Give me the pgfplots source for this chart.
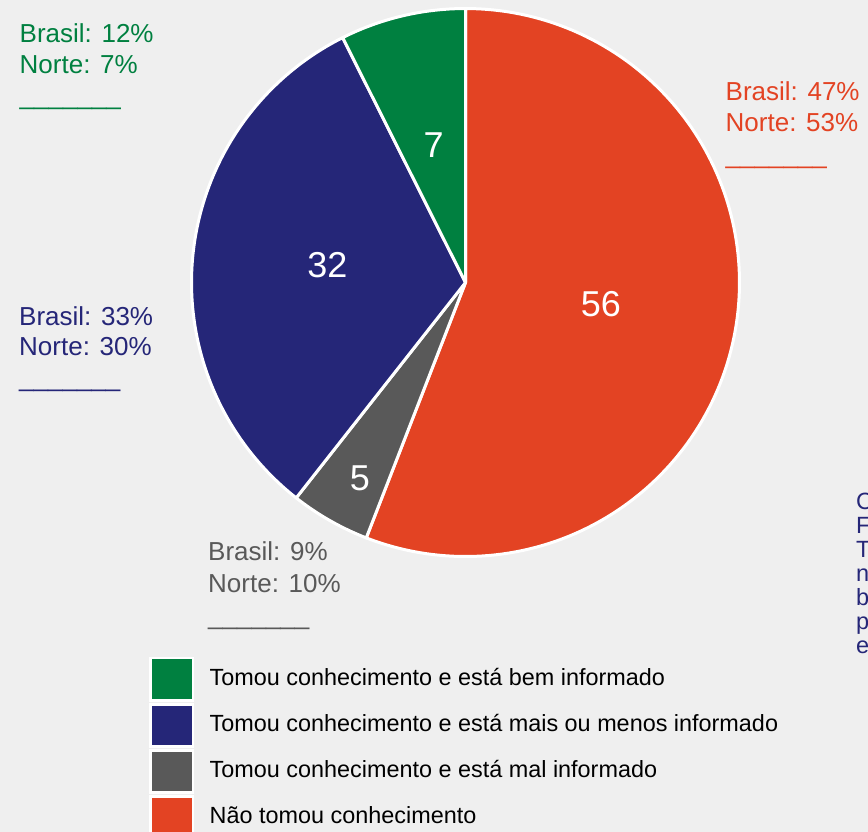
\documentclass[border=0pt]{standalone}
\usepackage{pgfplots}
\pgfplotsset{compat=1.18}
\usepackage{pgfplotstable}
\usepackage{fontspec}
\setmainfont{Liberation Sans}
\definecolor{bgc}{RGB}{239,239,239}
\definecolor{cGreen}{RGB}{0,128,64}
\definecolor{cNavy}{RGB}{37,38,120}
\definecolor{cGray}{RGB}{89,89,89}
\definecolor{cRed}{RGB}{227,67,35}

% slice values (percent), clockwise from the top
\pgfplotstableread{
slice value
nao   55.9
mal   4.7
mais  32.0
bem   7.4
}\piedata

\begin{document}
\begin{tikzpicture}
\useasboundingbox (0,0) rectangle (868bp,-832bp);
\clip (0,0) rectangle (868bp,-832bp);
\fill[bgc] (0,0) rectangle (868bp,-832bp);
% cumulative angles from the table
\pgfplotstablegetelem{0}{value}\of\piedata \let\vA\pgfplotsretval
\pgfplotstablegetelem{1}{value}\of\piedata \let\vB\pgfplotsretval
\pgfplotstablegetelem{2}{value}\of\piedata \let\vC\pgfplotsretval
\pgfplotstablegetelem{3}{value}\of\piedata \let\vD\pgfplotsretval
\pgfmathsetmacro\aA{90}
\pgfmathsetmacro\aB{\aA-3.6*\vA}
\pgfmathsetmacro\aC{\aB-3.6*\vB}
\pgfmathsetmacro\aD{\aC-3.6*\vC}
\pgfmathsetmacro\aE{\aD-3.6*\vD}
\begin{axis}[x=1bp, y=1bp, xmin=0, xmax=868, ymin=0, ymax=832,
  y dir=reverse, hide axis, at={(0,0)}, anchor=north west, clip=false]
\def\cx{465.5}\def\cy{282.5}\def\R{274}
\addplot[fill=cRed, draw=white, line width=3bp, line join=round, domain=\aB:\aA, samples=140]
  ({\cx+\R*cos(x)},{\cy-\R*sin(x)}) -- (axis cs:465.5,282.5) -- cycle;
\addplot[fill=cGray, draw=white, line width=3bp, line join=round, domain=\aC:\aB, samples=20]
  ({\cx+\R*cos(x)},{\cy-\R*sin(x)}) -- (axis cs:465.5,282.5) -- cycle;
\addplot[fill=cNavy, draw=white, line width=3bp, line join=round, domain=\aD:\aC, samples=90]
  ({\cx+\R*cos(x)},{\cy-\R*sin(x)}) -- (axis cs:465.5,282.5) -- cycle;
\addplot[fill=cGreen, draw=white, line width=3bp, line join=round, domain=\aE:\aD, samples=25]
  ({\cx+\R*cos(x)},{\cy-\R*sin(x)}) -- (axis cs:465.5,282.5) -- cycle;

% slice labels
\begin{scope}[every node/.style={text=white, inner sep=0pt, font=\fontsize{36bp}{36bp}\selectfont}]
\node at (axis cs:601,304.5) {56};
\node at (axis cs:360,477.8) {5};
\node at (axis cs:327.3,264.7) {32};
\node at (axis cs:433.7,145.5) {7};
\end{scope}

% annotations
\begin{scope}[every node/.style={anchor=base west, inner sep=0pt, font=\fontsize{26bp}{31bp}\selectfont}]
\node[text=cGreen] at (axis cs:19.5,42.3) {Brasil: 12\%};
\node[text=cGreen] at (axis cs:19.5,73.5) {Norte: 7\%};
\node[text=cGreen] at (axis cs:19.5,104.5) {\_\_\_\_\_\_\_};
\node[text=cRed] at (axis cs:725.5,100) {Brasil: 47\%};
\node[text=cRed] at (axis cs:725.5,131.5) {Norte: 53\%};
\node[text=cRed] at (axis cs:725.5,163) {\_\_\_\_\_\_\_};
\node[text=cNavy] at (axis cs:19,325) {Brasil: 33\%};
\node[text=cNavy] at (axis cs:19,355.7) {Norte: 30\%};
\node[text=cNavy] at (axis cs:19,386.3) {\_\_\_\_\_\_\_};
\node[text=cGray] at (axis cs:208,560) {Brasil: 9\%};
\node[text=cGray] at (axis cs:208,592.5) {Norte: 10\%};
\node[text=cGray] at (axis cs:208,624) {\_\_\_\_\_\_\_};
\end{scope}

% cut-off text at right edge (cut off in the reference too)
\begin{scope}[every node/.style={anchor=base west, inner sep=0pt, text=cNavy, font=\fontsize{23.5bp}{24bp}\selectfont}]
\node at (axis cs:856,509.3) {C};
\node at (axis cs:856,533.4) {F};
\node at (axis cs:856,557.5) {T};
\node at (axis cs:856,581.6) {n};
\node at (axis cs:856,605.7) {b};
\node at (axis cs:856,629.8) {p};
\node at (axis cs:856,653.9) {e};
\end{scope}

% legend
\addplot[fill=cGreen, draw=white, line width=2.6bp] coordinates {(150.7,658.0) (193,658.0) (193,700.3) (150.7,700.3)} -- cycle;
\addplot[fill=cNavy, draw=white, line width=2.6bp] coordinates {(150.7,704.2) (193,704.2) (193,746.5) (150.7,746.5)} -- cycle;
\addplot[fill=cGray, draw=white, line width=2.6bp] coordinates {(150.7,750.4) (193,750.4) (193,792.7) (150.7,792.7)} -- cycle;
\addplot[fill=cRed, draw=white, line width=2.6bp] coordinates {(150.7,796.6) (193,796.6) (193,838.9) (150.7,838.9)} -- cycle;
\begin{scope}[every node/.style={anchor=base west, inner sep=0pt, text=black, font=\fontsize{23.4bp}{28bp}\selectfont}]
\node at (axis cs:209.5,685.2) {Tomou conhecimento e está bem informado};
\node at (axis cs:209.5,731.4) {Tomou conhecimento e está mais ou menos informado};
\node at (axis cs:209.5,777.6) {Tomou conhecimento e está mal informado};
\node at (axis cs:209.5,823.8) {Não tomou conhecimento};
\end{scope}
\end{axis}
\end{tikzpicture}
\end{document}
